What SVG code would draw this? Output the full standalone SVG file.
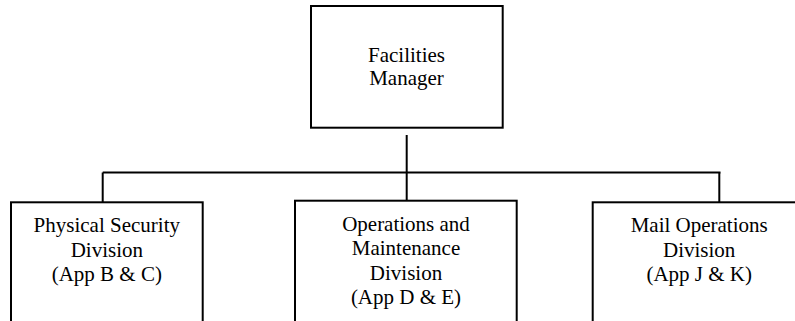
<svg xmlns="http://www.w3.org/2000/svg" width="795" height="321" viewBox="0 0 795 321">
<style>
.box{fill:#fff;stroke:#000;stroke-width:2}
.ln{stroke:#000;stroke-width:2;fill:none}
.t{font-family:'Liberation Serif','Times New Roman',Times,'DejaVu Serif',serif;font-size:21px;fill:#000;text-anchor:middle}
</style>
<rect width="795" height="321" fill="#fff"/>
<g id="connectors">
<line class="ln" x1="406.7" y1="135" x2="406.7" y2="172.5"/>
<line class="ln" x1="102.7" y1="172.5" x2="720.5" y2="172.5"/>
<line class="ln" x1="102.7" y1="172.5" x2="102.7" y2="202.3"/>
<line class="ln" x1="406.7" y1="172.5" x2="406.7" y2="200.7"/>
<line class="ln" x1="719.3" y1="172.5" x2="719.3" y2="202.3"/>
</g>
<g id="facilities-manager">
<rect class="box" x="311" y="6" width="191.7" height="121.7"/>
<text class="t" font-family="Liberation Serif, serif" x="406.5" y="61.7">Facilities</text>
<text class="t" font-family="Liberation Serif, serif" x="406.5" y="85">Manager</text>
</g>
<g id="physical-security">
<rect class="box" x="11" y="202.3" width="191.7" height="140"/>
<text class="t" x="106.8" y="232.3">Physical Security</text>
<text class="t" x="106.8" y="256.7">Division</text>
<text class="t" x="106.8" y="281.2">(App B &amp; C)</text>
</g>
<g id="operations-maintenance">
<rect class="box" x="295" y="200.7" width="221.7" height="140"/>
<text class="t" x="406" y="230.7">Operations and</text>
<text class="t" x="406" y="255.1">Maintenance</text>
<text class="t" x="406" y="279.6">Division</text>
<text class="t" x="406" y="304.1">(App D &amp; E)</text>
</g>
<g id="mail-operations">
<rect class="box" x="592.7" y="202.3" width="213" height="140"/>
<text class="t" x="699.2" y="232.3">Mail Operations</text>
<text class="t" x="699.2" y="256.7">Division</text>
<text class="t" x="699.2" y="281.2">(App J &amp; K)</text>
</g>
</svg>
